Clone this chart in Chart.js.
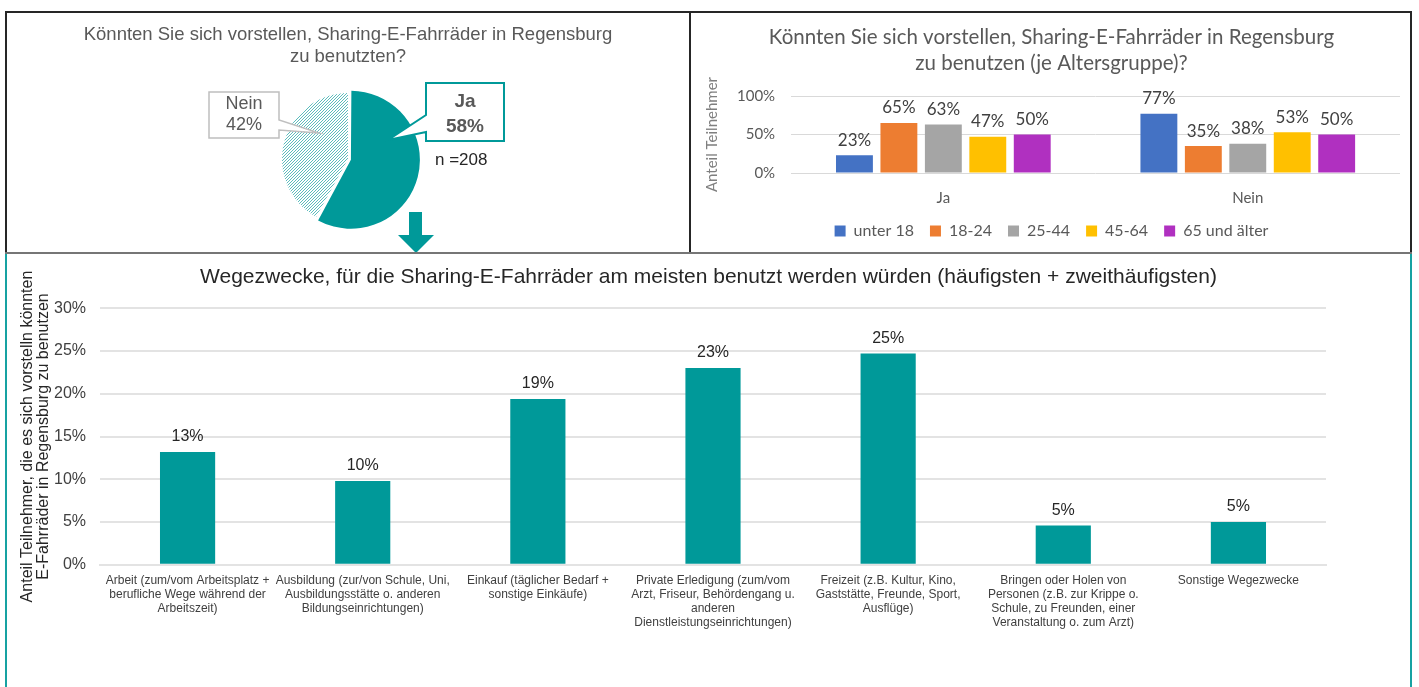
<!DOCTYPE html>
<html>
<head>
<meta charset="utf-8">
<script src="https://cdn.jsdelivr.net/npm/chart.js@4.4.0/dist/chart.umd.min.js"></script>
<style>
body { margin: 0; width: 1419px; height: 687px; background: #fff; position: relative; overflow: hidden; }
.frame { position: absolute; }
canvas { position: absolute; }
</style>
</head>
<body>
<!-- frames around the three panels -->
<div class="frame" style="left:5px;top:11px;width:1406px;height:2px;background:#262626"></div>
<div class="frame" style="left:5px;top:11px;width:2px;height:242px;background:#262626"></div>
<div class="frame" style="left:689px;top:11px;width:2px;height:242px;background:#262626"></div>
<div class="frame" style="left:1410px;top:11px;width:2px;height:242px;background:#262626"></div>
<div class="frame" style="left:5px;top:252px;width:1407px;height:2px;background:#767676"></div>
<div class="frame" style="left:5px;top:254px;width:2px;height:433px;background:#17a2a2"></div>
<div class="frame" style="left:1410px;top:254px;width:2px;height:433px;background:#17a2a2"></div>

<canvas id="pieChart" width="682" height="239" style="left:7px;top:13px"></canvas>
<canvas id="ageChart" width="719" height="239" style="left:691px;top:13px"></canvas>
<canvas id="purposeChart" width="1403" height="432" style="left:7px;top:255px"></canvas>

<script>
// pie: Ja / Nein
const pieLabels = ['Ja', 'Nein'];
const pieValues = [58, 42];
const sampleSize = 'n =208';

// bars per age group
const ageCategories = ['Ja', 'Nein'];
const ageGroups = ['unter 18', '18-24', '25-44', '45-64', '65 und älter'];
const ageUnter18 = [23, 77];
const age18to24 = [65, 35];
const age25to44 = [63, 38];
const age45to64 = [47, 53];
const age65plus = [50, 50];
const ageTicks = [0, 50, 100];

// trip purposes
const purposeLabels = [
    ['Arbeit (zum/vom Arbeitsplatz +', 'berufliche Wege während der', 'Arbeitszeit)'],
    ['Ausbildung (zur/von Schule, Uni,', 'Ausbildungsstätte o. anderen', 'Bildungseinrichtungen)'],
    ['Einkauf (täglicher Bedarf +', 'sonstige Einkäufe)'],
    ['Private Erledigung (zum/vom', 'Arzt, Friseur, Behördengang u.', 'anderen', 'Dienstleistungseinrichtungen)'],
    ['Freizeit (z.B. Kultur, Kino,', 'Gaststätte, Freunde, Sport,', 'Ausflüge)'],
    ['Bringen oder Holen von', 'Personen (z.B. zur Krippe o.', 'Schule, zu Freunden, einer', 'Veranstaltung o. zum Arzt)'],
    ['Sonstige Wegezwecke']
];
const purposeValues = [13.2, 9.8, 19.4, 23.0, 24.7, 4.6, 5.0];
const purposeTicks = [0, 5, 10, 15, 20, 25, 30];

const teal = '#009999';
Chart.defaults.font.family = "'Liberation Sans', Arial, sans-serif";
Chart.defaults.animation = false;

function makeHatch(color) {
    const c = document.createElement('canvas');
    c.width = 3; c.height = 3;
    const g = c.getContext('2d');
    g.fillStyle = '#fff';
    g.fillRect(0, 0, 3, 3);
    g.strokeStyle = color;
    g.lineWidth = 1;
    g.beginPath();
    g.moveTo(-1, 4); g.lineTo(4, -1);
    g.moveTo(-1, 1); g.lineTo(1, -1);
    g.moveTo(2, 4); g.lineTo(4, 2);
    g.stroke();
    return g.createPattern(c, 'repeat');
}

function valueLabels(font, color, offset) {
    return {
        id: 'valueLabels',
        afterDatasetsDraw(chart) {
            const ctx = chart.ctx;
            ctx.save();
            ctx.font = font;
            ctx.fillStyle = color;
            ctx.textAlign = 'center';
            ctx.textBaseline = 'middle';
            chart.data.datasets.forEach((ds, i) => {
                chart.getDatasetMeta(i).data.forEach((bar, j) => {
                    ctx.fillText(Math.round(ds.data[j]) + '%', bar.x, bar.y - offset);
                });
            });
            ctx.restore();
        }
    };
}

// callout boxes, n and the arrow around the pie
function callout(ctx, l, t, r, b, side, p1, p2, tip, stroke, lw) {
    ctx.beginPath();
    ctx.moveTo(l, t);
    ctx.lineTo(r, t);
    if (side === 'right') {
        ctx.lineTo(r, p1); ctx.lineTo(tip[0], tip[1]); ctx.lineTo(r, p2);
    }
    ctx.lineTo(r, b);
    ctx.lineTo(l, b);
    if (side === 'left') {
        ctx.lineTo(l, p2); ctx.lineTo(tip[0], tip[1]); ctx.lineTo(l, p1);
    }
    ctx.closePath();
    ctx.fillStyle = '#fff';
    ctx.fill();
    ctx.lineWidth = lw;
    ctx.strokeStyle = stroke;
    ctx.stroke();
}

const pieDecor = {
    id: 'pieDecor',
    afterDraw(chart) {
        const ctx = chart.ctx;
        const arc = chart.getDatasetMeta(0).data[0];
        const cx = arc.x, cy = arc.y;
        ctx.save();
        // Nein
        callout(ctx, cx - 139, cy - 67, cx - 69, cy - 21, 'right', cy - 39, cy - 29, [cx - 29, cy - 26], '#bfbfbf', 1.5);
        // Ja
        callout(ctx, cx + 78, cy - 76, cx + 156, cy - 18, 'left', cy - 44, cy - 27, [cx + 40, cy - 19], teal, 2);
        ctx.textAlign = 'center';
        ctx.textBaseline = 'middle';
        ctx.fillStyle = '#595959';
        ctx.font = "18px 'Liberation Sans'";
        ctx.fillText(pieLabels[1], cx - 104, cy - 55);
        ctx.fillText(pieValues[1] + '%', cx - 104, cy - 34);
        ctx.font = "bold 19px 'Liberation Sans'";
        ctx.fillText(pieLabels[0], cx + 117, cy - 57);
        ctx.fillText(pieValues[0] + '%', cx + 117, cy - 32);
        ctx.textAlign = 'left';
        ctx.fillStyle = '#262626';
        ctx.font = "17px 'Liberation Sans'";
        ctx.fillText(sampleSize, cx + 87, cy + 1);
        // arrow down to the next chart
        ctx.fillStyle = teal;
        ctx.beginPath();
        ctx.moveTo(cx + 61, cy + 53);
        ctx.lineTo(cx + 74, cy + 53);
        ctx.lineTo(cx + 74, cy + 76);
        ctx.lineTo(cx + 86, cy + 76);
        ctx.lineTo(cx + 68, cy + 94);
        ctx.lineTo(cx + 50, cy + 76);
        ctx.lineTo(cx + 61, cy + 76);
        ctx.closePath();
        ctx.fill();
        ctx.restore();
    }
};

new Chart(document.getElementById('pieChart'), {
    type: 'pie',
    data: {
        labels: pieLabels,
        datasets: [{
            data: pieValues,
            backgroundColor: [teal, makeHatch('#5cbcbc')],
            borderWidth: 0,
            offset: [12, 0],
            radius: 66
        }]
    },
    options: {
        responsive: false,
        layout: { padding: { bottom: 2 } },
        plugins: {
            legend: { display: false },
            tooltip: { enabled: false },
            title: {
                display: true,
                text: ['Könnten Sie sich vorstellen, Sharing-E-Fahrräder in Regensburg', 'zu benutzten?'],
                color: '#595959',
                font: { size: 18.5, weight: 'normal', lineHeight: 1.19 },
                padding: { top: 11, bottom: 0 }
            }
        }
    },
    plugins: [pieDecor]
});

const ageColors = ['#4472C4', '#ED7D31', '#A5A5A5', '#FFC000', '#B030C0'];
const ageSeries = [ageUnter18, age18to24, age25to44, age45to64, age65plus];
const latoFont = "Lato, 'Liberation Sans', sans-serif";

new Chart(document.getElementById('ageChart'), {
    type: 'bar',
    data: {
        labels: ageCategories,
        datasets: ageSeries.map((d, i) => ({
            label: ageGroups[i],
            data: d,
            backgroundColor: ageColors[i],
            categoryPercentage: 0.73,
            barPercentage: 0.83
        }))
    },
    options: {
        responsive: false,
        layout: { padding: { left: 12, right: 10, bottom: 3 } },
        plugins: {
            tooltip: { enabled: false },
            title: {
                display: true,
                text: ['Könnten Sie sich vorstellen, Sharing-E-Fahrräder in Regensburg', 'zu benutzen (je Altersgruppe)?'],
                color: '#595959',
                font: { family: latoFont, size: 20.5, weight: 'normal', lineHeight: 1.27 },
                padding: { top: 11, bottom: 20 }
            },
            legend: {
                position: 'bottom',
                labels: {
                    boxWidth: 11,
                    boxHeight: 11,
                    color: '#595959',
                    font: { family: latoFont, size: 16 },
                    padding: 16
                }
            }
        },
        scales: {
            x: {
                afterFit: axis => { axis.height = 34; },
                grid: { display: false, drawTicks: false },
                border: { display: false },
                ticks: { color: '#595959', font: { family: latoFont, size: 15 }, padding: 16 }
            },
            y: {
                min: 0,
                max: 100,
                afterBuildTicks: axis => { axis.ticks = ageTicks.map(v => ({ value: v })); },
                grid: { color: '#d9d9d9', drawTicks: false },
                border: { display: false },
                ticks: { color: '#595959', font: { family: latoFont, size: 15 }, padding: 16, callback: v => v + '%' },
                title: { display: true, text: 'Anteil Teilnehmer', color: '#7f7f7f', font: { family: latoFont, size: 15 }, padding: 0 }
            }
        }
    },
    plugins: [valueLabels("17px " + latoFont, '#404040', 15)]
});

new Chart(document.getElementById('purposeChart'), {
    type: 'bar',
    data: {
        labels: purposeLabels,
        datasets: [{
            data: purposeValues,
            backgroundColor: teal,
            categoryPercentage: 0.35,
            barPercentage: 0.9,
            yAxisID: 'y'
        }]
    },
    options: {
        responsive: false,
        layout: { padding: { left: 0, right: 0, bottom: 48 } },
        plugins: {
            legend: { display: false },
            tooltip: { enabled: false },
            title: {
                display: true,
                text: 'Wegezwecke, für die Sharing-E-Fahrräder am meisten benutzt werden würden (häufigsten + zweithäufigsten)',
                color: '#262626',
                font: { size: 21, weight: 'normal', lineHeight: 1.2 },
                padding: { top: 10, bottom: 18 }
            }
        },
        scales: {
            x: {
                grid: { display: false, drawTicks: false },
                border: { color: '#e3e3e3', width: 2 },
                ticks: {
                    color: '#404040',
                    font: { family: "'Liberation Sans Narrow', 'Liberation Sans', sans-serif", size: 12, lineHeight: 1.17 },
                    maxRotation: 0,
                    autoSkip: false,
                    padding: 9
                }
            },
            y: {
                min: 0,
                max: 30,
                afterBuildTicks: axis => { axis.ticks = purposeTicks.map(v => ({ value: v })); },
                afterFit: axis => { axis.width = 93; },
                grid: { color: '#e3e3e3', lineWidth: 2, drawTicks: false },
                border: { display: false },
                ticks: { color: '#404040', font: { size: 16 }, padding: 14, callback: v => v + '%' },
                title: {
                    display: true,
                    text: ['Anteil Teilnehmer, die es sich vorstelln könnten', 'E-Fahrräder in Regensburg zu benutzen'],
                    color: '#262626',
                    font: { size: 16, lineHeight: 1.0 },
                    padding: { top: 13, bottom: 0 }
                }
            },
            // empty right axis keeps the space on the right side of the plot
            yRight: {
                position: 'right',
                afterFit: axis => { axis.width = 84; },
                grid: { display: false, drawTicks: false },
                border: { display: false },
                ticks: { display: false }
            }
        }
    },
    plugins: [valueLabels("16px 'Liberation Sans'", '#262626', 15)]
});
</script>
</body>
</html>
